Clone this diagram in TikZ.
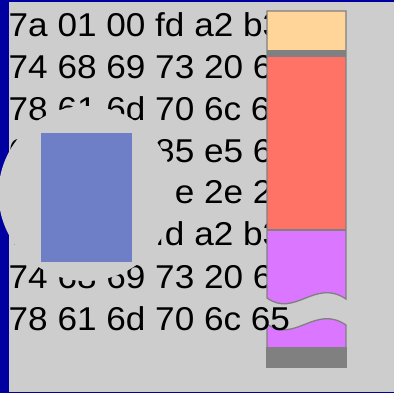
\documentclass[tikz,border=0pt]{standalone}
\usepackage{fontspec}
\setmainfont{Liberation Sans}
\newfontfamily\hexfont[FakeStretch=1.065]{Liberation Sans}
\definecolor{frameblue}{RGB}{0,0,160}
\definecolor{bggrey}{RGB}{205,205,205}
\definecolor{rectblue}{RGB}{111,127,199}
\definecolor{barorange}{RGB}{255,213,154}
\definecolor{barred}{RGB}{255,114,102}
\definecolor{barviolet}{RGB}{218,118,255}
\definecolor{bargrey}{RGB}{128,128,128}
\tikzset{
  hexline/.style={anchor=base west, inner sep=0pt, font=\hexfont\fontsize{33}{40}\selectfont, text=black},
  barline/.style={draw=bargrey, line width=1.3pt, line join=miter},
}
\begin{document}
\begin{tikzpicture}[x=1pt,y=-1pt]
\useasboundingbox (0,0) rectangle (394,393);
\fill[frameblue] (0,0) rectangle (394,393);
\fill[bggrey] (9,2) rectangle (394,391.5);
% lower piece of the bar
\fill[barviolet] (267,324) .. controls (295,344) and (315,304) .. (346,325) -- (346,347) -- (267,347) -- cycle;
\fill[bargrey] (267,347) rectangle (346,367);
\draw[barline] (267,347) -- (267,324) .. controls (295,344) and (315,304) .. (346,325) -- (346,347);
\draw[barline] (267,347) -- (267,367) -- (346,367) -- (346,347);
% hex text
\node[hexline] (l1) at (8.5,37) {7a 01 00 fd a2 b3};
\node[hexline] (l2) at (8.5,79) {74 68 69 73 20 69};
\node[hexline] (l3) at (8.5,120.6) {78 61 6d 70 6c 65};
\node[hexline] (l4) at (8.5,162.4) {63 9a 0b 85 e5 69};
\node[hexline] (l5) at (8.5,204) {2e 2e 2e 2e 2e 2e};
\node[hexline] (l6) at (8.5,246) {7a 01 00 fd a2 b3};
\node[hexline] (l7) at (8.5,288) {74 68 69 73 20 69};
\node[hexline] (l8) at (8.5,330) {78 61 6d 70 6c 65};
% disc
\fill[bggrey] (86,193.5) circle [radius=87.5];
% blue rectangle
\node[fill=rectblue, inner sep=0pt, minimum width=91pt, minimum height=129pt, anchor=north west] (box) at (41,133) {};
% upper piece of the bar
\fill[barorange] (267,11) rectangle (346,50);
\fill[bargrey] (267,50) rectangle (346,57);
\fill[barred] (267,57) rectangle (346,230);
\fill[barviolet] (267,230) -- (346,230) -- (346,299) .. controls (315,278) and (295,318) .. (267,298) -- cycle;
\draw[barline] (267,11) -- (346,11) -- (346,299) .. controls (315,278) and (295,318) .. (267,298) -- cycle;
\draw[barline] (267,230) -- (346,230);
\end{tikzpicture}
\end{document}
